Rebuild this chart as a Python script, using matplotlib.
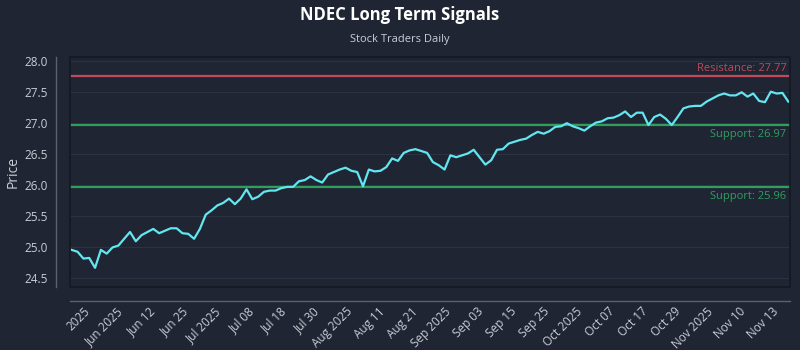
import matplotlib
matplotlib.use("Agg")
import matplotlib.pyplot as plt
import numpy as np
from matplotlib.patches import Rectangle

# ---------------------------------------------------------------------------
# Data
# ---------------------------------------------------------------------------

prices = [
    24.95, 24.92, 24.81, 24.82, 24.66, 24.95, 24.89, 24.99, 25.02, 25.13,
    25.24, 25.09, 25.19, 25.24, 25.29, 25.22, 25.26, 25.30, 25.30, 25.22,
    25.21, 25.13, 25.29, 25.52, 25.59, 25.67, 25.71, 25.78, 25.69, 25.78,
    25.93, 25.77, 25.81, 25.89, 25.91, 25.91, 25.95, 25.97, 25.97, 26.06,
    26.08, 26.14,
    26.08, 26.04, 26.17, 26.21, 26.25, 26.28, 26.23, 26.21, 25.98, 26.25,
    26.22, 26.23, 26.29, 26.43, 26.39, 26.52, 26.56, 26.58, 26.55, 26.52,
    26.37, 26.32, 26.25, 26.48, 26.45, 26.48, 26.51, 26.57, 26.45, 26.33,
    26.40, 26.57, 26.58, 26.67, 26.70, 26.73, 26.75, 26.81, 26.86, 26.83,
    26.87,
    26.94, 26.95, 27.00, 26.95, 26.92, 26.88, 26.95, 27.01, 27.03, 27.08,
    27.09, 27.13, 27.19, 27.10, 27.17, 27.17, 26.97, 27.10, 27.14, 27.07,
    26.97, 27.10, 27.24, 27.27, 27.28, 27.28, 27.35, 27.40, 27.45, 27.48,
    27.45, 27.45, 27.50, 27.43, 27.48, 27.36, 27.34, 27.51, 27.48, 27.49,
    27.35,
]

tick_labels = [
    "2025", "Jun 2025", "Jun 12", "Jun 25", "Jul 2025", "Jul 08", "Jul 18",
    "Jul 30", "Aug 2025", "Aug 11", "Aug 21", "Sep 2025", "Sep 03", "Sep 15",
    "Sep 25", "Oct 2025", "Oct 07", "Oct 17", "Oct 29", "Nov 2025", "Nov 10",
    "Nov 13",
]

resistance = 27.77
supports = [26.97, 25.96]

# ---------------------------------------------------------------------------
# Style
# ---------------------------------------------------------------------------

BG = "#1f2532"
TEXT = "#c9cdd6"
RED = "#c24a5c"
GREEN = "#2f9e5f"
CYAN = "#62e6f0"

plt.rcParams["font.family"] = ["Open Sans", "DejaVu Sans"]

fig = plt.figure(figsize=(8, 3.5), dpi=100, facecolor=BG)
ax = fig.add_axes([0.0875, 0.18, 0.9, 0.657])
ax.set_facecolor(BG)

# offset spines first: set_position resets the tick objects
for side in ("top", "right"):
    ax.spines[side].set_visible(False)
for side in ("left", "bottom"):
    ax.spines[side].set_position(("outward", 10))
    ax.spines[side].set_color("#5b6272")
    ax.spines[side].set_linewidth(1.0)
ax.add_patch(Rectangle((0, 0), 1, 1, transform=ax.transAxes, fill=False,
                       edgecolor="#141922", linewidth=1.2, clip_on=False,
                       zorder=6))

x = np.arange(len(prices))
ax.plot(x, prices, color=CYAN, linewidth=1.6, zorder=5)

ax.axhline(resistance, color=RED, linewidth=1.6, zorder=3)
for s in supports:
    ax.axhline(s, color=GREEN, linewidth=1.6, zorder=3)

ax.set_xlim(-0.3, len(prices) - 0.7)
ax.set_ylim(24.35, 28.07)

# labels for the levels, right aligned inside the plot
trans = ax.get_yaxis_transform()
ax.text(0.995, resistance + 0.03, f"Resistance: {resistance:.2f}",
        transform=trans, ha="right", va="bottom", color=RED, fontsize=8)
for s in supports:
    ax.text(0.995, s - 0.06, f"Support: {s:.2f}", transform=trans,
            ha="right", va="top", color=GREEN, fontsize=8)

# ticks
ax.tick_params(axis="both", colors=TEXT, labelsize=8.5, length=0)
ax.tick_params(axis="y", pad=6)
ax.tick_params(axis="x", pad=3)
yt = np.arange(24.5, 28.01, 0.5)
ax.set_yticks(yt)
ax.set_yticklabels([f"{v:.1f}" for v in yt])
tick_pos = np.linspace(3.6, len(prices) - 2.2, len(tick_labels))
ax.set_xticks(tick_pos)
ax.set_xticklabels(tick_labels, rotation=45, ha="right")

ax.grid(axis="y", color="#2b3242", linewidth=0.8)
ax.grid(axis="x", visible=False)
ax.set_axisbelow(True)

ax.set_ylabel("Price", color=TEXT, fontsize=10)
ax.yaxis.set_label_coords(-0.068, 0.5)

fig.text(0.5, 0.957, "NDEC Long Term Signals", ha="center", va="center",
         color="white", fontsize=12, fontweight="bold")
fig.text(0.5, 0.888, "Stock Traders Daily", ha="center", va="center",
         color=TEXT, fontsize=8)

fig.savefig("out.png", dpi=100, facecolor=BG)
